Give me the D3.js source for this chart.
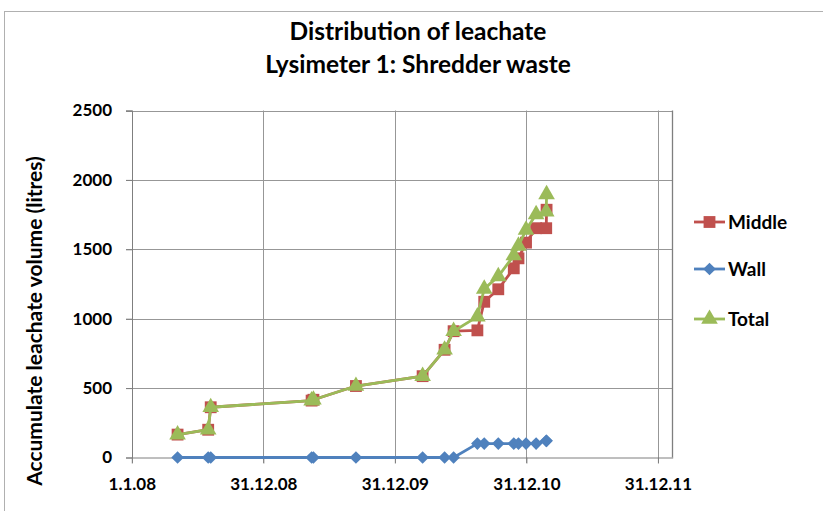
<!DOCTYPE html>
<html>
<head>
<meta charset="utf-8">
<script src="https://cdn.jsdelivr.net/npm/d3@7"></script>
<style>
  html, body { margin: 0; padding: 0; background: #fff; }
  svg { display: block; }
  text { font-family: Lato, "Open Sans", "Liberation Sans", sans-serif; font-weight: bold; fill: #000; }
</style>
</head>
<body>
<svg id="chart" width="823" height="511"></svg>
<script>
// ---- Data ----
const dates = [
  "2008-05-07", "2008-07-31", "2008-08-07", "2009-05-14", "2009-05-19",
  "2009-09-14", "2010-03-18", "2010-05-18", "2010-06-12", "2010-08-17",
  "2010-09-05", "2010-10-14", "2010-11-26", "2010-12-09", "2010-12-30",
  "2011-01-27", "2011-02-24", "2011-02-25"
];
const middle = [165, 200, 362, 410, 416, 515, 586, 776, 910, 916,
                1122, 1212, 1363, 1435, 1548, 1652, 1652, 1785];
const wall   = [0, 0, 0, 0, 0, 0, 0, 0, 0, 100,
                100, 100, 100, 100, 100, 100, 120, 120];
const total  = [165, 200, 362, 410, 416, 515, 586, 776, 910, 1015,
                1215, 1305, 1455, 1525, 1640, 1752, 1771, 1895];
const seriesNames = ["Middle", "Wall", "Total"];
const xTickDates = ["2008-01-01", "2008-12-31", "2009-12-31", "2010-12-31", "2011-12-31"];
const xTickLabels = ["1.1.08", "31.12.08", "31.12.09", "31.12.10", "31.12.11"];
const yTicks = [0, 500, 1000, 1500, 2000, 2500];
const xDomain = ["2008-01-01", "2012-02-10"];
const titleLines = ["Distribution of leachate", "Lysimeter 1: Shredder waste"];
const yTitle = "Accumulate leachate volume (litres)";

// ---- Setup ----
const parse = d3.utcParse("%Y-%m-%d");
const svg = d3.select("#chart");
const colors = { Middle: "#C0504D", Wall: "#4F81BD", Total: "#9BBB59" };
const seriesData = { Middle: middle, Wall: wall, Total: total };

const x = d3.scaleUtc().domain(xDomain.map(parse)).range([131.8, 672.7]);
const y = d3.scaleLinear().domain([0, 2500]).range([457.5, 110.5]);

// chart area border
svg.append("rect").attr("x", 4.5).attr("y", 11.5).attr("width", 840).attr("height", 520)
  .attr("fill", "none").attr("stroke", "#b0b0b0").attr("stroke-width", 1);

// titles
svg.selectAll("text.title").data(titleLines).enter().append("text")
  .attr("class", "title")
  .attr("x", 418).attr("y", (d, i) => 40 + i * 33)
  .attr("text-anchor", "middle").style("font-size", "24.5px").text(d => d);

// gridlines (horizontal)
const gGrid = svg.append("g");
gGrid.selectAll("line.h").data(yTicks.filter(v => v > 0)).enter().append("line")
  .attr("x1", 126).attr("x2", x.range()[1])
  .attr("y1", d => Math.round(y(d)) + 0.5).attr("y2", d => Math.round(y(d)) + 0.5)
  .attr("stroke", "#979797").attr("stroke-width", 1);
// vertical gridlines
gGrid.selectAll("line.v").data(xTickDates.map(parse)).enter().append("line")
  .attr("x1", d => Math.round(x(d)) + 0.5).attr("x2", d => Math.round(x(d)) + 0.5)
  .attr("y1", y(2500)).attr("y2", 463)
  .attr("stroke", "#979797").attr("stroke-width", 1);
// plot border right
svg.append("line").attr("x1", 672.5).attr("x2", 672.5).attr("y1", 110.5).attr("y2", 457.5)
  .attr("stroke", "#7f7f7f").attr("stroke-width", 1.3);

// y axis
const yAxis = d3.axisLeft(y).tickValues(yTicks).tickFormat(d3.format("d")).tickSize(6).tickPadding(14);
const gy = svg.append("g").attr("transform", "translate(132,0)").call(yAxis);
gy.select(".domain").attr("stroke", "#7f7f7f");
gy.selectAll(".tick line").attr("stroke", "#7f7f7f");
gy.selectAll(".tick text").style("font-size", "17px").style("font-family", "Lato, sans-serif").style("font-weight", "bold").attr("fill", "#000");

// x axis
const xAxis = d3.axisBottom(x).tickValues(xTickDates.map(parse))
  .tickFormat((d, i) => xTickLabels[i]).tickSize(6).tickPadding(14).tickSizeOuter(0);
const gx = svg.append("g").attr("transform", "translate(0,457.5)").call(xAxis);
gx.select(".domain").attr("stroke", "#7f7f7f");
gx.selectAll(".tick line").attr("stroke", "#7f7f7f");
gx.selectAll(".tick text").style("font-size", "17px").style("font-family", "Lato, sans-serif").style("font-weight", "bold").attr("fill", "#000");

// y title
svg.append("text")
  .attr("transform", "translate(42,321) rotate(-90)")
  .attr("text-anchor", "middle").style("font-size", "21px").text(yTitle);

// series
const line = d3.line().x(d => x(d.date)).y(d => y(d.v));
const diamond = { draw(ctx, size) { const r = Math.sqrt(size / 2); ctx.moveTo(0, -r); ctx.lineTo(r, 0); ctx.lineTo(0, r); ctx.lineTo(-r, 0); ctx.closePath(); } };
const symbols = { Middle: d3.symbolSquare, Wall: diamond, Total: d3.symbolTriangle };
const sizes = { Middle: 140, Wall: 80, Total: 120 };
seriesNames.forEach(name => {
  const pts = dates.map((d, i) => ({ date: parse(d), v: seriesData[name][i] }));
  const g = svg.append("g");
  g.append("path").datum(pts).attr("d", line)
    .attr("fill", "none").attr("stroke", colors[name]).attr("stroke-width", 2.8)
    .attr("stroke-linejoin", "round");
  g.selectAll("path.m").data(pts).enter().append("path")
    .attr("transform", d => `translate(${x(d.date)},${y(d.v)})`)
    .attr("d", d3.symbol().type(symbols[name]).size(sizes[name]))
    .attr("fill", colors[name]);
});

// legend
const legY = [222, 269, 319];
seriesNames.forEach((name, i) => {
  const g = svg.append("g").attr("transform", `translate(0,${legY[i]})`);
  g.append("line").attr("x1", 694).attr("x2", 725).attr("y1", 0).attr("y2", 0)
    .attr("stroke", colors[name]).attr("stroke-width", 2.8);
  g.append("path").attr("transform", "translate(709.5,0)")
    .attr("d", d3.symbol().type(symbols[name]).size(sizes[name])).attr("fill", colors[name]);
  g.append("text").attr("x", 728).attr("y", 7).style("font-size", "19px").text(name);
});
</script>
</body>
</html>
